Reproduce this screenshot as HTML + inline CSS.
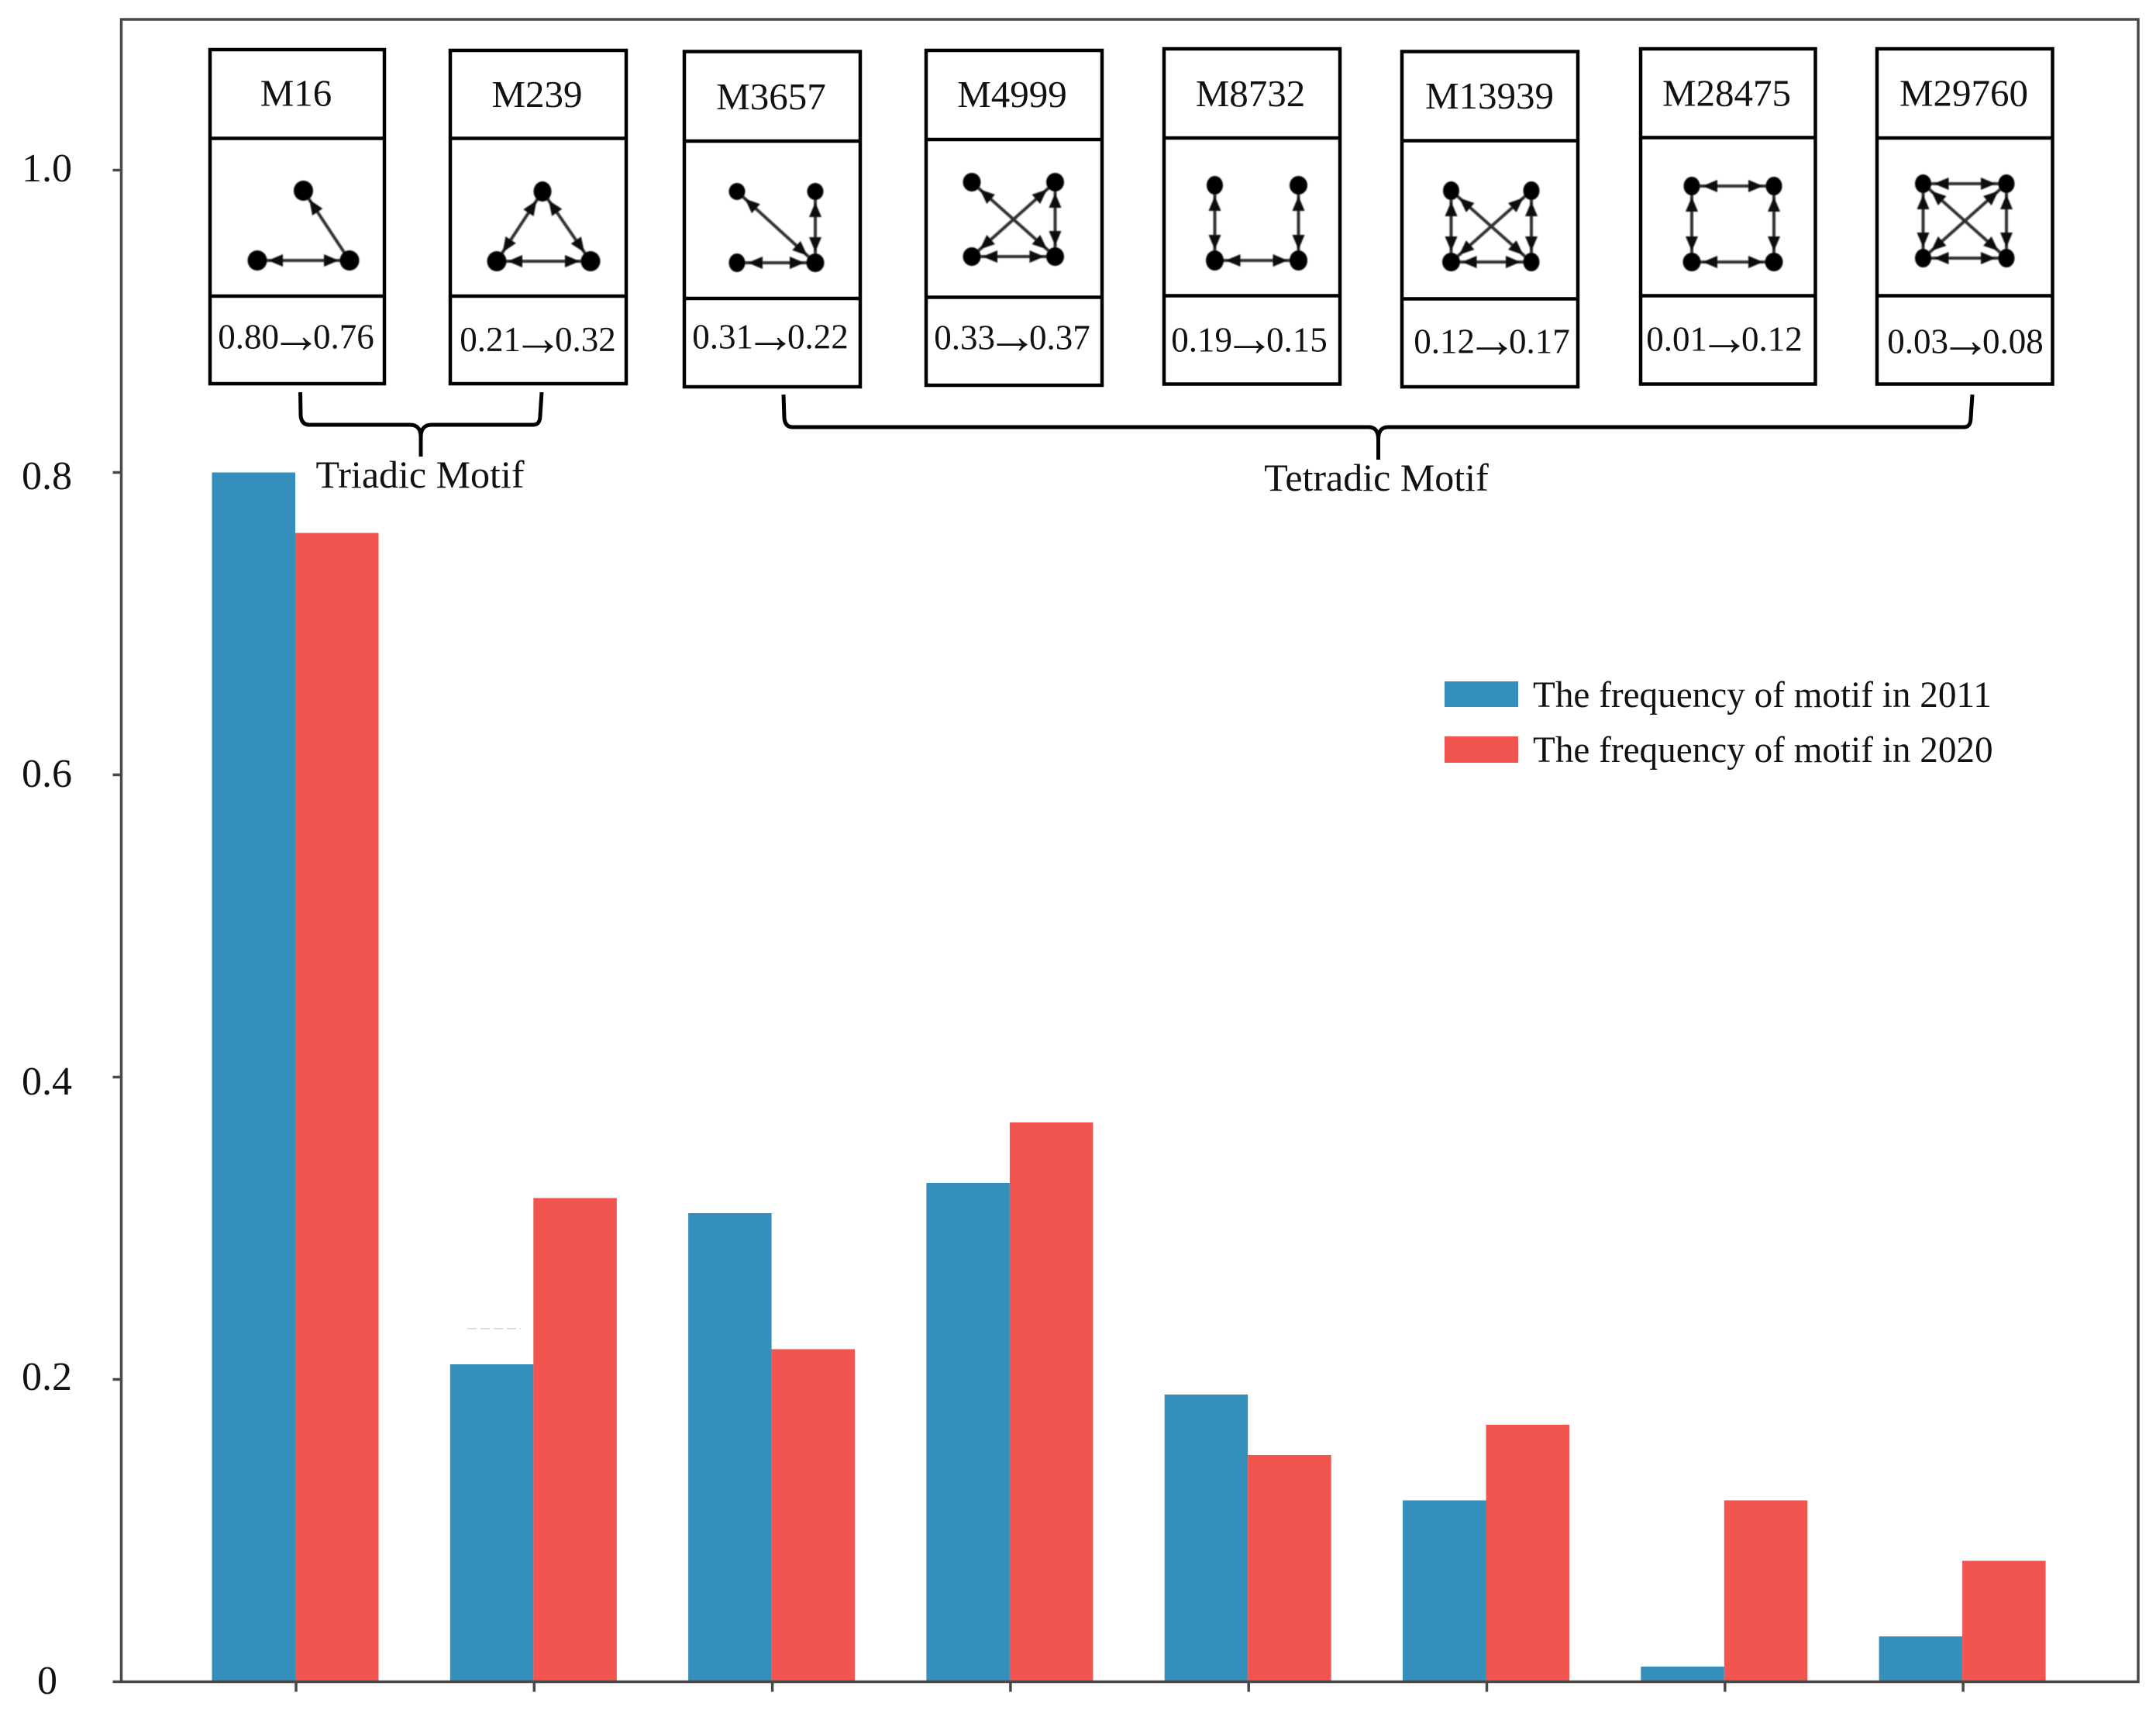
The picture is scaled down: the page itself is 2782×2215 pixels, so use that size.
<!DOCTYPE html>
<html lang="en">
<head>
<meta charset="utf-8">
<title>Motif frequency in 2011 and 2020</title>
<style>
html,body{margin:0;padding:0;background:#fff;}
svg{display:block;}
text{font-family:"Liberation Serif",serif;fill:#111;}
.box{fill:#fff;stroke:#000;stroke-width:4.5;}
.div{stroke:#000;stroke-width:4.5;}
.name{font-size:49px;text-anchor:middle;}
.val{font-size:45px;text-anchor:middle;}
.arr{font-size:66px;}
.tick-label{font-size:52px;text-anchor:end;}
.group-label{font-size:50px;text-anchor:middle;}
.legend-label{font-size:47.2px;}
.both{stroke:#333;stroke-width:4;marker-start:url(#arrow);marker-end:url(#arrow);}
.one{stroke:#333;stroke-width:4;marker-end:url(#arrow);}
.node{fill:#000;}
.graph{filter:url(#soft);}
.brace{fill:none;stroke:#000;stroke-width:5;}
.axis{stroke:#484848;stroke-width:3.5;fill:none;}
</style>
</head>
<body>
<svg xmlns="http://www.w3.org/2000/svg" width="2782" height="2215" viewBox="0 0 2782 2215">
<defs>
<marker id="arrow" markerUnits="userSpaceOnUse" viewBox="0 0 34 18" refX="34" refY="9" markerWidth="34" markerHeight="18" orient="auto-start-reverse">
<path d="M1,1 L20,9 L1,17 Z" fill="#111"/>
</marker>
<filter id="soft" x="-10%" y="-10%" width="120%" height="120%">
<feGaussianBlur stdDeviation="0.8"/>
</filter>
</defs>
<rect x="0" y="0" width="2782" height="2215" fill="#fff"/>

<g id="bars"></g>
<g id="axes"></g>

<line x1="603" y1="1714" x2="672" y2="1714" stroke="#dcdcdc" stroke-width="2" stroke-dasharray="12 5"/>

<g>
<text class="tick-label" x="93" y="234">1.0</text>
<text class="tick-label" x="93" y="631">0.8</text>
<text class="tick-label" x="93" y="1015">0.6</text>
<text class="tick-label" x="93" y="1412">0.4</text>
<text class="tick-label" x="93" y="1793">0.2</text>
<text class="tick-label" x="74" y="2185">0</text>
</g>

<g>
<rect class="box" x="271" y="64" width="225" height="431"/>
<line class="div" x1="271" y1="178.5" x2="496" y2="178.5"/>
<line class="div" x1="271" y1="382" x2="496" y2="382"/>
<text class="name" x="382" y="136.5">M16</text>
<g class="graph">
<line class="one" x1="451" y1="336" x2="391.5" y2="246"/>
<line class="both" x1="332" y1="336" x2="451" y2="336"/>
<ellipse class="node" cx="391.5" cy="246" rx="12.5" ry="13"/>
<ellipse class="node" cx="332" cy="336" rx="12.5" ry="13"/>
<ellipse class="node" cx="451" cy="336" rx="12.5" ry="13"/>
</g>
<text class="val" x="382" y="449.5">0.80<tspan class="arr" dx="-11" dy="5">→</tspan><tspan dx="-11" dy="-5">0.76</tspan></text>
</g>

<g>
<rect class="box" x="581" y="65" width="227" height="430"/>
<line class="div" x1="581" y1="178.5" x2="808" y2="178.5"/>
<line class="div" x1="581" y1="382" x2="808" y2="382"/>
<text class="name" x="693" y="138">M239</text>
<g class="graph">
<line class="both" x1="700" y1="247" x2="641" y2="337"/>
<line class="both" x1="700" y1="247" x2="762" y2="337"/>
<line class="both" x1="641" y1="337" x2="762" y2="337"/>
<ellipse class="node" cx="700" cy="247" rx="11.5" ry="13"/>
<ellipse class="node" cx="641" cy="337" rx="12.5" ry="13"/>
<ellipse class="node" cx="762" cy="337" rx="12.5" ry="13"/>
</g>
<text class="val" x="694" y="453">0.21<tspan class="arr" dx="-11" dy="5">→</tspan><tspan dx="-11" dy="-5">0.32</tspan></text>
</g>

<g>
<rect class="box" x="883" y="66.5" width="227" height="432.5"/>
<line class="div" x1="883" y1="182" x2="1110" y2="182"/>
<line class="div" x1="882" y1="385" x2="1110" y2="385"/>
<text class="name" x="995" y="141">M3657</text>
<g class="graph">
<line class="both" x1="951" y1="247" x2="1052" y2="339"/>
<line class="both" x1="1052" y1="247" x2="1052" y2="339"/>
<line class="both" x1="951" y1="339" x2="1052" y2="339"/>
<ellipse class="node" cx="951" cy="247" rx="10.5" ry="11"/>
<ellipse class="node" cx="1052" cy="247" rx="10.5" ry="11"/>
<ellipse class="node" cx="951" cy="339" rx="10.5" ry="12"/>
<ellipse class="node" cx="1052" cy="339" rx="11.5" ry="12"/>
</g>
<text class="val" x="994" y="449.5">0.31<tspan class="arr" dx="-11" dy="5">→</tspan><tspan dx="-11" dy="-5">0.22</tspan></text>
</g>

<g>
<rect class="box" x="1195" y="65" width="227" height="432"/>
<line class="div" x1="1195" y1="180" x2="1422" y2="180"/>
<line class="div" x1="1195" y1="383.5" x2="1422" y2="383.5"/>
<text class="name" x="1306" y="138">M4999</text>
<g class="graph">
<line class="both" x1="1254" y1="235" x2="1361.5" y2="331"/>
<line class="both" x1="1361.5" y1="235" x2="1254" y2="331"/>
<line class="both" x1="1361.5" y1="235" x2="1361.5" y2="331"/>
<line class="both" x1="1254" y1="331" x2="1361.5" y2="331"/>
<ellipse class="node" cx="1254" cy="235" rx="11.5" ry="12"/>
<ellipse class="node" cx="1361.5" cy="235" rx="11.5" ry="12"/>
<ellipse class="node" cx="1254" cy="331" rx="11.5" ry="12"/>
<ellipse class="node" cx="1361.5" cy="331" rx="11.5" ry="12"/>
</g>
<text class="val" x="1306" y="450.5">0.33<tspan class="arr" dx="-11" dy="5">→</tspan><tspan dx="-11" dy="-5">0.37</tspan></text>
</g>

<g>
<rect class="box" x="1502" y="63" width="227" height="432.5"/>
<line class="div" x1="1502" y1="178" x2="1729" y2="178"/>
<line class="div" x1="1502" y1="381.5" x2="1729" y2="381.5"/>
<text class="name" x="1613.5" y="137">M8732</text>
<g class="graph">
<line class="both" x1="1567.5" y1="239" x2="1567.5" y2="336"/>
<line class="both" x1="1675.5" y1="239" x2="1675.5" y2="336"/>
<line class="both" x1="1567.5" y1="336" x2="1675.5" y2="336"/>
<ellipse class="node" cx="1567.5" cy="239" rx="10.5" ry="12"/>
<ellipse class="node" cx="1675.5" cy="239" rx="11.5" ry="12"/>
<ellipse class="node" cx="1567.5" cy="336" rx="11.5" ry="13"/>
<ellipse class="node" cx="1675.5" cy="336" rx="11.5" ry="13"/>
</g>
<text class="val" x="1612" y="453.5">0.19<tspan class="arr" dx="-11" dy="5">→</tspan><tspan dx="-11" dy="-5">0.15</tspan></text>
</g>

<g>
<rect class="box" x="1809" y="66.5" width="227" height="432.5"/>
<line class="div" x1="1809" y1="181.5" x2="2036" y2="181.5"/>
<line class="div" x1="1809" y1="385.5" x2="2036" y2="385.5"/>
<text class="name" x="1922" y="140">M13939</text>
<g class="graph">
<line class="both" x1="1872.5" y1="246" x2="1872.5" y2="338"/>
<line class="both" x1="1976" y1="246" x2="1976" y2="338"/>
<line class="both" x1="1872.5" y1="246" x2="1976" y2="338"/>
<line class="both" x1="1976" y1="246" x2="1872.5" y2="338"/>
<line class="both" x1="1872.5" y1="338" x2="1976" y2="338"/>
<ellipse class="node" cx="1872.5" cy="246" rx="10.5" ry="12"/>
<ellipse class="node" cx="1976" cy="246" rx="10.5" ry="12"/>
<ellipse class="node" cx="1872.5" cy="338" rx="11.5" ry="12"/>
<ellipse class="node" cx="1976" cy="338" rx="10.5" ry="12"/>
</g>
<text class="val" x="1925" y="455.5">0.12<tspan class="arr" dx="-11" dy="5">→</tspan><tspan dx="-11" dy="-5">0.17</tspan></text>
</g>

<g>
<rect class="box" x="2117" y="63" width="225.5" height="432.5"/>
<line class="div" x1="2117" y1="177.5" x2="2342.5" y2="177.5"/>
<line class="div" x1="2117" y1="381.5" x2="2342.5" y2="381.5"/>
<text class="name" x="2228" y="136.5">M28475</text>
<g class="graph">
<line class="both" x1="2183" y1="240" x2="2289" y2="240"/>
<line class="both" x1="2183" y1="338" x2="2289" y2="338"/>
<line class="both" x1="2183" y1="240" x2="2183" y2="338"/>
<line class="both" x1="2289" y1="240" x2="2289" y2="338"/>
<ellipse class="node" cx="2183" cy="240" rx="10.5" ry="12"/>
<ellipse class="node" cx="2289" cy="240" rx="10.5" ry="12"/>
<ellipse class="node" cx="2183" cy="338" rx="11.5" ry="12"/>
<ellipse class="node" cx="2289" cy="338" rx="11.5" ry="12"/>
</g>
<text class="val" x="2225" y="452.5">0.01<tspan class="arr" dx="-11" dy="5">→</tspan><tspan dx="-11" dy="-5">0.12</tspan></text>
</g>

<g>
<rect class="box" x="2422" y="63" width="226.5" height="432.5"/>
<line class="div" x1="2422" y1="178" x2="2648.5" y2="178"/>
<line class="div" x1="2422" y1="381.5" x2="2648.5" y2="381.5"/>
<text class="name" x="2534" y="136.5">M29760</text>
<g class="graph">
<line class="both" x1="2481.5" y1="237" x2="2589" y2="237"/>
<line class="both" x1="2481.5" y1="333" x2="2589" y2="333"/>
<line class="both" x1="2481.5" y1="237" x2="2481.5" y2="333"/>
<line class="both" x1="2589" y1="237" x2="2589" y2="333"/>
<line class="both" x1="2481.5" y1="237" x2="2589" y2="333"/>
<line class="both" x1="2589" y1="237" x2="2481.5" y2="333"/>
<ellipse class="node" cx="2481.5" cy="237" rx="10.5" ry="12"/>
<ellipse class="node" cx="2589" cy="237" rx="10.5" ry="12"/>
<ellipse class="node" cx="2481.5" cy="333" rx="10.5" ry="12"/>
<ellipse class="node" cx="2589" cy="333" rx="10.5" ry="12"/>
</g>
<text class="val" x="2536" y="455.5">0.03<tspan class="arr" dx="-11" dy="5">→</tspan><tspan dx="-11" dy="-5">0.08</tspan></text>
</g>

<path class="brace" d="M387.5,506 L388,536 Q389,548 399,548 L529,548 Q543,548 543,564 L543,589 M543,564 Q543,548 557,548 L688,548 Q697,548 697,536 L699,506"/>
<text class="group-label" x="542" y="629">Triadic Motif</text>
<path class="brace" d="M1011,509 L1012,539 Q1013,551 1023,551 L1766,551 Q1778.5,551 1778.5,567 L1778.5,593 M1778.5,567 Q1778.5,551 1791,551 L2534,551 Q2543,551 2543,539 L2545,509"/>
<text class="group-label" x="1776" y="633">Tetradic Motif</text>

<g>
<g>
<rect x="1864" y="879" width="95" height="33" fill="#348fbb"/>
<text class="legend-label" x="1978" y="912">The frequency of motif in 2011</text>
</g>
<g>
<rect x="1864" y="950" width="95" height="34" fill="#f25450"/>
<text class="legend-label" x="1978" y="983">The frequency of motif in 2020</text>
</g>
</g>
</svg>

<script>
const categories = ["M16", "M239", "M3657", "M4999", "M8732", "M13939", "M28475", "M29760"];
const freq2011 = [0.80, 0.21, 0.31, 0.33, 0.19, 0.12, 0.01, 0.03];
const freq2020 = [0.76, 0.32, 0.22, 0.37, 0.15, 0.17, 0.12, 0.08];
const yTickValues = [0, 0.2, 0.4, 0.6, 0.8, 1.0];

const SVG_NS = "http://www.w3.org/2000/svg";
const plot = { left: 156.5, right: 2759, top: 25, bottom: 2169.5 };
const barWidth = 107.5;

function yScale(v) { return plot.bottom - v * 1950; }
function xScale(i) { return 381 + i * 307.3; }

function make(tag, attrs) {
  const el = document.createElementNS(SVG_NS, tag);
  for (const k in attrs) el.setAttribute(k, attrs[k]);
  return el;
}

const barsGroup = document.getElementById("bars");
const axesGroup = document.getElementById("axes");

categories.forEach(function (cat, i) {
  const cx = xScale(i);
  const blue = make("rect", {
    x: cx - barWidth,
    y: yScale(freq2011[i]),
    width: barWidth,
    height: plot.bottom - yScale(freq2011[i]),
    fill: "#348fbb"
  });
  
  
  barsGroup.appendChild(blue);

  const red = make("rect", {
    x: cx,
    y: yScale(freq2020[i]),
    width: barWidth,
    height: plot.bottom - yScale(freq2020[i]),
    fill: "#f25450"
  });
  
  
  barsGroup.appendChild(red);

  const xTick = make("line", { x1: cx + 1, x2: cx + 1, y1: plot.bottom, y2: plot.bottom + 13, "class": "axis" });
  
  
  axesGroup.appendChild(xTick);
});

yTickValues.forEach(function (v) {
  const yTick = make("line", { x1: plot.left - 11, x2: plot.left, y1: yScale(v), y2: yScale(v), "class": "axis" });
  
  
  axesGroup.appendChild(yTick);
});

const frame = make("rect", {
  x: plot.left,
  y: plot.top,
  width: plot.right - plot.left,
  height: plot.bottom - plot.top,
  "class": "axis"
});


axesGroup.appendChild(frame);
</script>
</body>
</html>
